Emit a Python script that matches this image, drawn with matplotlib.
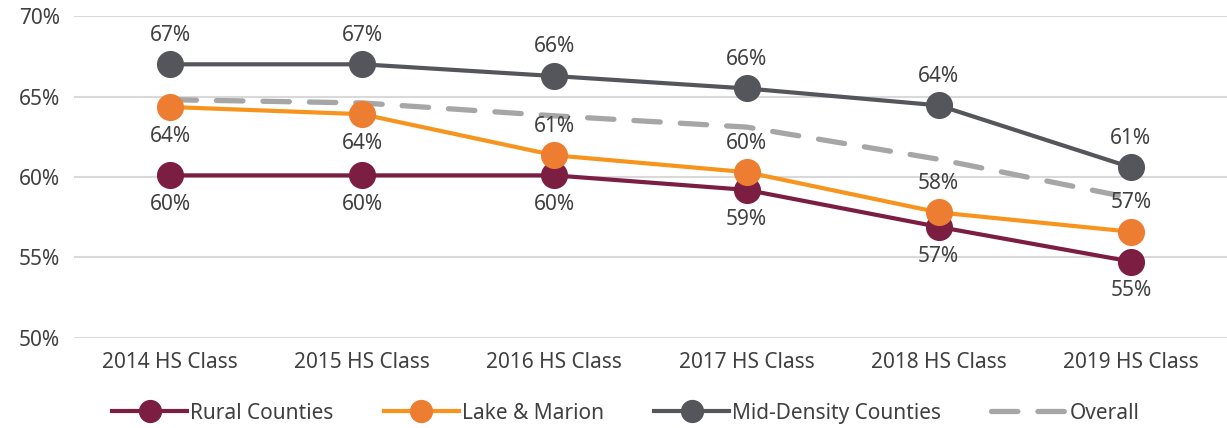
import numpy as np
from matplotlib import pyplot as plt

plt.rcParams['font.family'] = ['Noto Sans', 'DejaVu Sans']

classes = ['2014 HS Class', '2015 HS Class', '2016 HS Class',
           '2017 HS Class', '2018 HS Class', '2019 HS Class']
rural = [60.1, 60.1, 60.1, 59.2, 56.9, 54.75]
lake_marion = [64.35, 63.9, 61.35, 60.3, 57.8, 56.6]
mid_density = [67.0, 67.0, 66.27, 65.5, 64.45, 60.6]
overall = [64.8, 64.6, 63.8, 63.1, 61.1, 58.7]

# where each label goes: +1 above, -1 below
rural_pos = [-1, -1, -1, -1, -1, -1]
lake_pos = [-1, -1, 1, 1, 1, 1]
mid_pos = [1, 1, 1, 1, 1, 1]

text_col = '#404040'

fig = plt.figure(figsize=(12.27, 4.28), dpi=100)
ax = fig.add_axes([0.0603, 0.2103, 0.9397, 0.7523])

x = np.arange(len(classes))

ax.plot(x, overall, color='#A6A6A6', lw=3.8, dashes=(5.0, 3.8),
        dash_capstyle='round', label='Overall', zorder=2)
ax.plot(x, rural, color='#7B1E42', lw=3, marker='o', ms=18.5,
        label='Rural Counties', zorder=3)
ax.plot(x, lake_marion, color='#F7941D', lw=3, marker='o', ms=18.5,
        mfc='#ED7D31', mec='#ED7D31', label='Lake & Marion', zorder=4)
ax.plot(x, mid_density, color='#54565B', lw=3, marker='o', ms=18.5,
        label='Mid-Density Counties', zorder=5)

for vals, pos in [(rural, rural_pos), (lake_marion, lake_pos), (mid_density, mid_pos)]:
    for xi, v, p in zip(x, vals, pos):
        ax.annotate(f'{round(v):.0f}%', (xi, v), xytext=(0, 21 * p),
                    textcoords='offset points', ha='center', va='center',
                    fontsize=15, color=text_col, zorder=6)

ax.set_xlim(-0.5, len(classes) - 0.5)
ax.set_ylim(50, 70)
ax.set_yticks(np.arange(50, 71, 5))
ax.set_yticklabels([f'{t}%' for t in range(50, 71, 5)])
ax.set_xticks(x)
ax.set_xticklabels(classes)
ax.tick_params(length=0, labelsize=15, labelcolor=text_col)
ax.tick_params(axis='x', pad=10)
ax.tick_params(axis='y', pad=10)
ax.grid(axis='y', color='#D9D9D9', lw=1.5)
ax.set_axisbelow(True)
for s in ax.spines.values():
    s.set_visible(False)

handles, labels = ax.get_legend_handles_labels()
order = [1, 2, 3, 0]
fig.legend([handles[i] for i in order], [labels[i] for i in order],
           loc='center', bbox_to_anchor=(0.51, 0.035), ncol=4, frameon=False,
           fontsize=15, labelcolor=text_col, handlelength=3.6, handletextpad=0.15,
           columnspacing=2.4, markerscale=0.85)

plt.savefig('out.png')
